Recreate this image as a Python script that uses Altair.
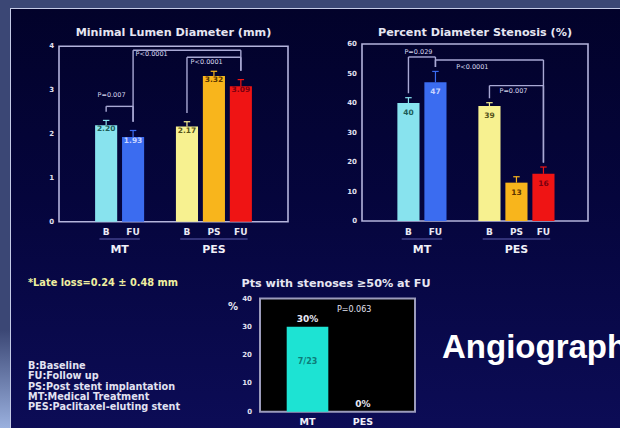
import altair as alt
import pandas as pd

# ---------------- data ----------------
phases = ["B", "FU", "B", "PS", "FU"]
groups = ["MT", "MT", "PES", "PES", "PES"]
slots = [0, 1, 3, 4, 5]
bar_colors = ["#88e3ee", "#3b6cf0", "#f7f190", "#f8b51c", "#ef1414"]
value_text_colors = ["#1d5c58", "#c8d4ff", "#55531a", "#5a3300", "#7a0010"]

# Minimal lumen diameter (mm)
mld_values = [2.20, 1.93, 2.17, 3.32, 3.09]
mld_sd = [0.11, 0.15, 0.11, 0.11, 0.15]
mld_ticks = [0, 1, 2, 3, 4]
# brackets: from slot, to slot, level, text, text slot, text level
mld_brackets = [
    (0, 1, 2.63, "P=0.007", 0.2, 2.88),
    (1, 5, 3.91, "P<0.0001", 1.69, 3.82),
    (3, 5, 3.75, "P<0.0001", 3.73, 3.64),
]

# Percent diameter stenosis (%)
pds_values = [40, 47, 39, 13, 16]
pds_sd = [1.8, 3.7, 1.1, 2.0, 2.3]
pds_ticks = [0, 10, 20, 30, 40, 50, 60]
pds_brackets = [
    (0, 1, 55.6, "P=0.029", 0.37, 57.2),
    (1, 5, 54.6, "P<0.0001", 2.37, 52.1),
    (3, 5, 45.9, "P=0.007", 3.89, 44.0),
]

# Patients with stenoses >=50% at follow-up
fu_groups = ["MT", "PES"]
fu_slots = [0, 1]
fu_pct = [30, 0]
fu_counts = ["7/23", ""]
fu_ticks = [0, 10, 20, 30, 40]
fu_p_text = "P=0.063"
fu_p_pos = (0.84, 35.9)

late_loss = "*Late loss=0.24 \u00b1 0.48 mm"
abbreviations = [
    "B:Baseline",
    "FU:Follow up",
    "PS:Post stent implantation",
    "MT:Medical Treatment",
    "PES:Paclitaxel-eluting stent",
]

# ---------------- layout ----------------
FONT = "DejaVu Sans"
BAR_HALF = 0.41
CAP_HALF = 0.12
FRAME = "#b4b4dc"
BRACKET = "#a9a9d4"
TITLE_SIZE = 11.2


def qx(field, scale):
    return alt.X(f"{field}:Q", scale=scale, axis=None)


def qy(field, scale):
    return alt.Y(f"{field}:Q", scale=scale, axis=None)


def bar_panel(title, values, sd, ticks, brackets, xdom, xrange, ydom, yrange,
              fmt, label_dy, gap):
    xs = alt.Scale(domain=xdom, range=xrange, nice=False, zero=False)
    ys = alt.Scale(domain=ydom, range=yrange, nice=False, zero=False)

    df = pd.DataFrame({
        "slot": slots, "phase": phases, "group": groups, "value": values,
        "sd": sd, "color": bar_colors, "tcolor": value_text_colors,
    })
    df["base"] = 0
    df["x0"] = df.slot - BAR_HALF
    df["x1"] = df.slot + BAR_HALF
    df["top"] = df.value + df.sd
    df["c0"] = df.slot - CAP_HALF
    df["c1"] = df.slot + CAP_HALF
    df["label"] = [fmt.format(v) for v in values]

    frame = pd.DataFrame({"x": [xdom[0]], "x2": [xdom[1]],
                          "y": [ydom[0]], "y2": [ydom[1]],
                          "title": [title], "xm": [(xdom[0] + xdom[1]) / 2]})

    top_by_slot = dict(zip(df.slot, df.top))
    segs, labels = [], []
    for a, b, level, text, tx, ty in brackets:
        segs.append({"x": a, "x2": b, "y": level, "y2": level})
        segs.append({"x": a, "x2": a, "y": level, "y2": top_by_slot[a] + gap})
        segs.append({"x": b, "x2": b, "y": level, "y2": top_by_slot[b] + gap})
        labels.append({"x": tx, "y": ty, "text": text})
    segs = pd.DataFrame(segs)
    labels = pd.DataFrame(labels)

    grp = df.groupby("group", sort=False).slot.agg(["min", "max"]).reset_index()
    grp["mid"] = (grp["min"] + grp["max"]) / 2
    grp["u0"] = grp["min"] - 0.25
    grp["u1"] = grp["max"] + 0.25

    tick_df = pd.DataFrame({"v": ticks, "x": xdom[0]})

    outline = alt.Chart(frame).mark_rect(fill=None, stroke=FRAME, strokeWidth=1.6).encode(
        x=qx("x", xs), x2="x2", y=qy("y", ys), y2="y2")
    title_t = alt.Chart(frame).mark_text(font=FONT, fontWeight="bold", fontSize=TITLE_SIZE,
                                         color="#e6e6f2").encode(
        x=qx("xm", xs), y=alt.value(33), text="title:N")
    bars = alt.Chart(df).mark_bar().encode(
        x=qx("x0", xs), x2="x1", y=qy("base", ys), y2="value",
        color=alt.Color("color:N", scale=None))
    err = alt.Chart(df).mark_rule(strokeWidth=1.2).encode(
        x=qx("slot", xs), y=qy("value", ys), y2="top",
        color=alt.Color("color:N", scale=None))
    caps = alt.Chart(df).mark_rule(strokeWidth=1.2).encode(
        x=qx("c0", xs), x2="c1", y=qy("top", ys),
        color=alt.Color("color:N", scale=None))
    vals = alt.Chart(df).mark_text(font=FONT, fontWeight="bold", fontSize=7.5,
                                   dy=label_dy).encode(
        x=qx("slot", xs), y=qy("value", ys), text="label:N",
        color=alt.Color("tcolor:N", scale=None))
    brk = alt.Chart(segs).mark_rule(color=BRACKET, strokeWidth=1.4).encode(
        x=qx("x", xs), x2="x2", y=qy("y", ys), y2="y2")
    ptext = alt.Chart(labels).mark_text(font=FONT, fontSize=6.5, color="#d8d8ee").encode(
        x=qx("x", xs), y=qy("y", ys), text="text:N")
    yt = alt.Chart(tick_df).mark_text(font=FONT, fontWeight="bold", fontSize=7,
                                      align="right", dx=-5, color="#e0e0f0").encode(
        x=qx("x", xs), y=qy("v", ys), text="v:Q")
    phase_t = alt.Chart(df).mark_text(font=FONT, fontWeight="bold", fontSize=9,
                                      color="#e8e8f4").encode(
        x=qx("slot", xs), y=alt.value(232), text="phase:N")
    under = alt.Chart(grp).mark_rule(color="#5c5cb0", strokeWidth=1.2).encode(
        x=qx("u0", xs), x2="u1", y=alt.value(239))
    group_t = alt.Chart(grp).mark_text(font=FONT, fontWeight="bold", fontSize=11,
                                       color="#f0f0f8").encode(
        x=qx("mid", xs), y=alt.value(250), text="group:N")

    return alt.layer(outline, title_t, bars, err, caps, vals, brk, ptext, yt,
                     phase_t, under, group_t)


mld = bar_panel("Minimal Lumen Diameter (mm)", mld_values, mld_sd, mld_ticks,
                mld_brackets, [-1.75, 6.75], [59, 288], [0, 4], [221.7, 46.3],
                "{:.2f}", 4, 0.2)
pds = bar_panel("Percent Diameter Stenosis (%)", pds_values, pds_sd, pds_ticks,
                pds_brackets, [-1.72, 6.65], [362, 588], [0, 60], [221, 44],
                "{:d}", 10, 1.5)

# ---- follow-up restenosis panel ----
fxs = alt.Scale(domain=[-0.856, 1.937], range=[260, 415], nice=False, zero=False)
fys = alt.Scale(domain=[0, 40], range=[411.7, 298.5], nice=False, zero=False)
fu_df = pd.DataFrame({"group": fu_groups, "slot": fu_slots, "pct": fu_pct,
                      "count": fu_counts})
fu_df["base"] = 0
fu_df["x0"] = fu_df.slot - 0.375
fu_df["x1"] = fu_df.slot + 0.375
fu_df["mid"] = fu_df.pct / 2
fu_df["label"] = [f"{v}%" for v in fu_pct]
fu_frame = pd.DataFrame({"x": [-0.856], "x2": [1.937], "y": [0], "y2": [40]})
fu_tick_df = pd.DataFrame({"v": fu_ticks, "x": -0.856})
fu_p_df = pd.DataFrame({"x": [fu_p_pos[0]], "y": [fu_p_pos[1]], "t": [fu_p_text]})

fu_panel = alt.layer(
    alt.Chart(fu_frame).mark_rect(fill="#000000", stroke="#9c9cbc", strokeWidth=2).encode(
        x=qx("x", fxs), x2="x2", y=qy("y", fys), y2="y2"),
    alt.Chart(fu_df).mark_bar(color="#1de3d3").encode(
        x=qx("x0", fxs), x2="x1", y=qy("base", fys), y2="pct"),
    alt.Chart(fu_df).mark_text(font=FONT, fontWeight="bold", fontSize=9, dy=-8,
                               color="#e8e8f4").encode(
        x=qx("slot", fxs), y=qy("pct", fys), text="label:N"),
    alt.Chart(fu_df).mark_text(font=FONT, fontWeight="bold", fontSize=8, dy=-7,
                               color="#0d7c78").encode(
        x=qx("slot", fxs), y=qy("mid", fys), text="count:N"),
    alt.Chart(fu_p_df).mark_text(font=FONT, fontSize=8, color="#e0e0f0").encode(
        x=qx("x", fxs), y=qy("y", fys), text="t:N"),
    alt.Chart(fu_tick_df).mark_text(font=FONT, fontWeight="bold", fontSize=7,
                                    align="right", dx=-8, color="#e0e0f0").encode(
        x=qx("x", fxs), y=qy("v", fys), text="v:Q"),
    alt.Chart(fu_df).mark_text(font=FONT, fontWeight="bold", fontSize=9.5,
                               color="#f0f0f8").encode(
        x=qx("slot", fxs), y=alt.value(422), text="group:N"),
)

# ---- slide backdrop and free text ----
one = pd.DataFrame({"k": [0]})
panel = alt.Chart(one).mark_rect(
    color=alt.Gradient(
        gradient="linear", x1=0, x2=0, y1=0, y2=1,
        stops=[alt.GradientStop(offset=0, color="#02022a"),
               alt.GradientStop(offset=0.45, color="#05053c"),
               alt.GradientStop(offset=1, color="#0c0c56")])
).encode(x=alt.value(11), x2=alt.value(620), y=alt.value(9), y2=alt.value(428))
glow = alt.Chart(one).mark_rect(
    color=alt.Gradient(
        gradient="linear", x1=0, x2=0, y1=0, y2=1,
        stops=[alt.GradientStop(offset=0, color="#3b4775"),
               alt.GradientStop(offset=1, color="#9ab0de")])
).encode(x=alt.value(0), x2=alt.value(10), y=alt.value(330), y2=alt.value(428))
edge_top = alt.Chart(one).mark_rule(color="#c4cae6", strokeWidth=1).encode(
    x=alt.value(10), x2=alt.value(620), y=alt.value(8.5))
edge_left = alt.Chart(one).mark_rule(color="#c4cae6", strokeWidth=1).encode(
    x=alt.value(10.5), y=alt.value(8.5), y2=alt.value(428))

late_t = alt.Chart(pd.DataFrame({"t": [late_loss]})).mark_text(
    font=FONT, fontWeight="bold", fontSize=9.8, align="left", color="#efefa0"
).encode(x=alt.value(28), y=alt.value(283), text="t:N")
abbr_t = alt.Chart(pd.DataFrame({"t": ["\n".join(abbreviations)]})).mark_text(
    font=FONT, fontWeight="bold", fontSize=9.7, align="left", baseline="top",
    lineBreak="\n", lineHeight=10.3, color="#e2e2f2"
).encode(x=alt.value(28), y=alt.value(361), text="t:N")
fu_title = alt.Chart(pd.DataFrame({"t": ["Pts with stenoses \u226550% at FU"]})).mark_text(
    font=FONT, fontWeight="bold", fontSize=TITLE_SIZE, color="#e6e6f2"
).encode(x=alt.value(336), y=alt.value(284), text="t:N")
pct_t = alt.Chart(pd.DataFrame({"t": ["%"]})).mark_text(
    font=FONT, fontWeight="bold", fontSize=10, color="#e6e6f2"
).encode(x=alt.value(233), y=alt.value(307), text="t:N")
headline = alt.Chart(pd.DataFrame({"t": ["Angiographic"]})).mark_text(
    font="Liberation Sans", fontWeight="bold", fontSize=33, align="left",
    baseline="alphabetic", color="#ffffff"
).encode(x=alt.value(442), y=alt.value(358), text="t:N")

backdrop = alt.layer(panel, glow, edge_top, edge_left)
notes = alt.layer(late_t, abbr_t, fu_title, pct_t, headline)

chart = alt.layer(backdrop, mld, pds, fu_panel, notes).resolve_scale(
    x="independent", y="independent"
).properties(
    width=620, height=428, padding=0, autosize="none", background="#3b4775"
).configure_view(stroke=None)

chart.save("out.html", embed_options={"renderer": "svg", "actions": False})
